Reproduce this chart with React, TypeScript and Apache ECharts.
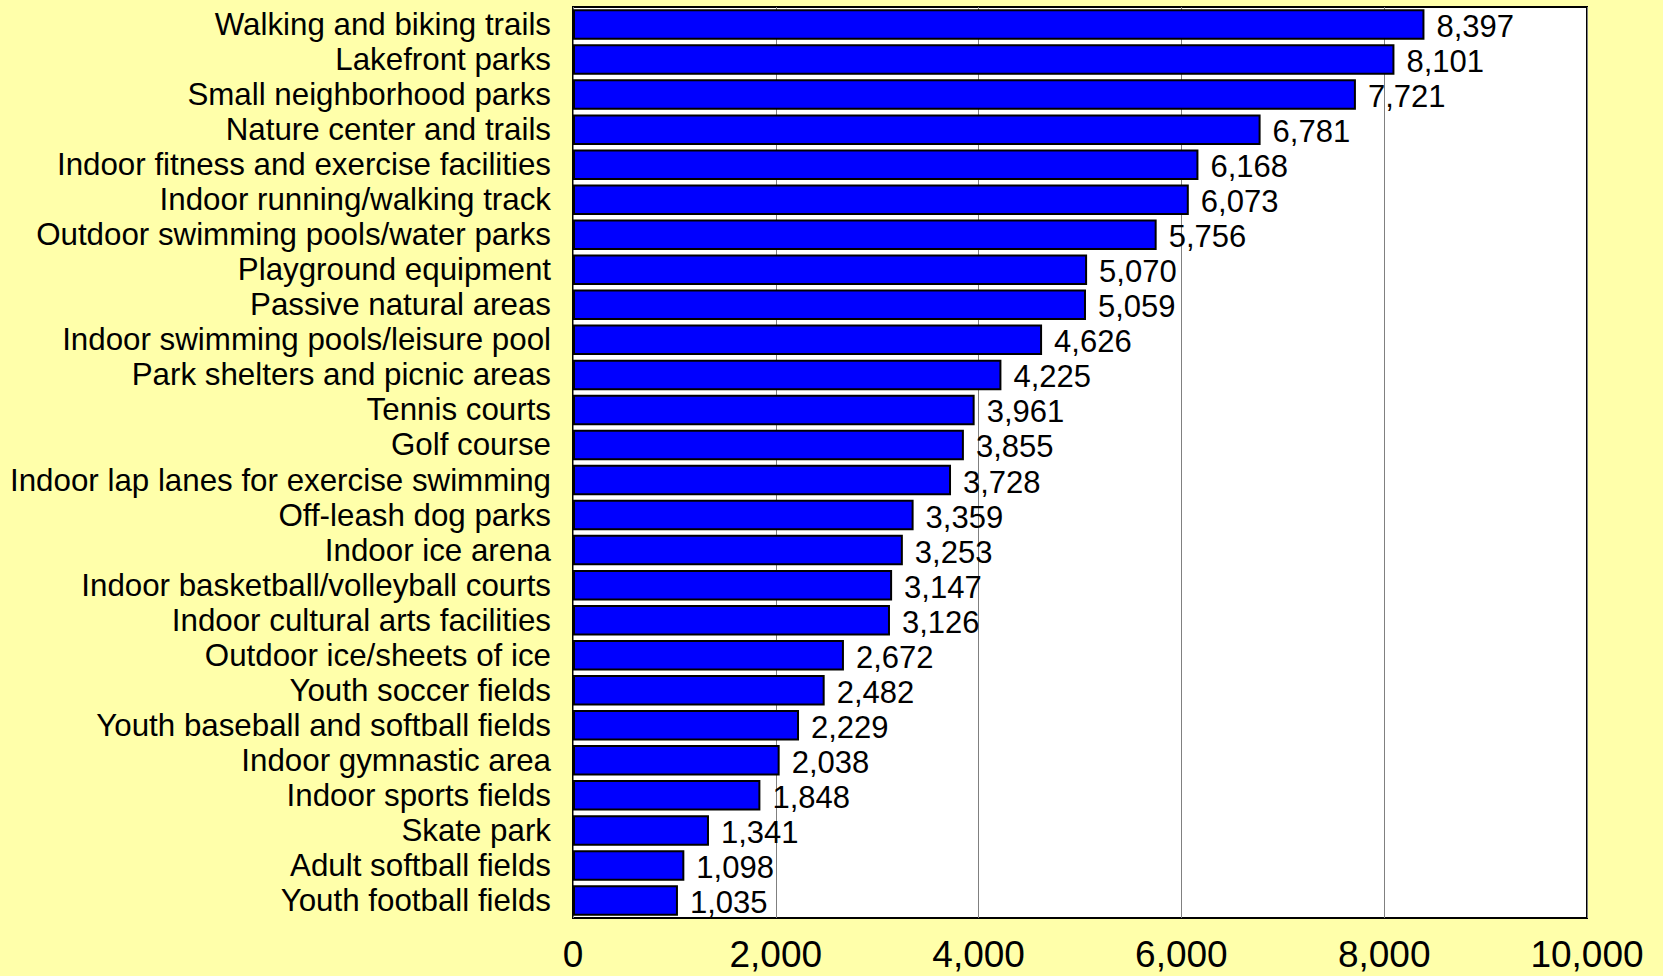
import React, { useEffect, useRef } from "react";
import * as echarts from "echarts";

const categories = [
  "Walking and biking trails",
  "Lakefront parks",
  "Small neighborhood parks",
  "Nature center and trails",
  "Indoor fitness and exercise facilities",
  "Indoor running/walking track",
  "Outdoor swimming pools/water parks",
  "Playground equipment",
  "Passive natural areas",
  "Indoor swimming pools/leisure pool",
  "Park shelters and picnic areas",
  "Tennis courts",
  "Golf course",
  "Indoor lap lanes for exercise swimming",
  "Off-leash dog parks",
  "Indoor ice arena",
  "Indoor basketball/volleyball courts",
  "Indoor cultural arts facilities",
  "Outdoor ice/sheets of ice",
  "Youth soccer fields",
  "Youth baseball and softball fields",
  "Indoor gymnastic area",
  "Indoor sports fields",
  "Skate park",
  "Adult softball fields",
  "Youth football fields",
];

const values = [
  8397, 8101, 7721, 6781, 6168, 6073, 5756, 5070, 5059, 4626, 4225, 3961, 3855,
  3728, 3359, 3253, 3147, 3126, 2672, 2482, 2229, 2038, 1848, 1341, 1098, 1035,
];

const xMin = 0;
const xMax = 10000;
const xInterval = 2000;

const fmt = (v: number) => Number(v).toLocaleString("en-US");

export default function App() {
  const ref = useRef<HTMLDivElement>(null);
  useEffect(() => {
    if (!ref.current) return;
    const chart = echarts.init(ref.current, undefined, { renderer: "svg" });
    const font = "Liberation Sans, Arial, sans-serif";
    chart.setOption({
      animation: false,
      backgroundColor: "#FFFFAA",
      textStyle: { fontFamily: font },
      grid: {
        left: 573,
        right: 76,
        top: 7,
        bottom: 58,
        show: true,
        backgroundColor: "#FFFFFF",
        borderColor: "#000000",
        borderWidth: 2,
        containLabel: false,
      },
      xAxis: {
        type: "value",
        min: xMin,
        max: xMax,
        interval: xInterval,
        axisLine: { show: false },
        axisTick: { show: false },
        splitLine: { show: true, lineStyle: { color: "#808080", width: 1 } },
        axisLabel: {
          fontSize: 37,
          color: "#000",
          fontFamily: font,
          margin: 18,
          formatter: (v: number) => fmt(v),
        },
      },
      yAxis: {
        type: "category",
        data: categories,
        inverse: true,
        axisLine: { show: false },
        axisTick: { show: false },
        splitLine: { show: false },
        axisLabel: {
          fontSize: 31.3,
          color: "#000",
          fontFamily: font,
          margin: 22,
          interval: 0,
          padding: [4, 0, 0, 0],
        },
      },
      series: [
        {
          type: "bar",
          data: values,
          barCategoryGap: "13%",
          itemStyle: { color: "#0000FF", borderColor: "#000000", borderWidth: 2 },
          label: {
            show: true,
            position: "right",
            distance: 12,
            offset: [0, 2],
            fontSize: 31,
            color: "#000",
            fontFamily: font,
            formatter: (p: any) => fmt(p.value),
          },
        },
      ],
    });
    return () => chart.dispose();
  }, []);
  return (
    <div
      ref={ref}
      style={{ position: "absolute", left: 0, top: 0, width: 1663, height: 976 }}
    />
  );
}
